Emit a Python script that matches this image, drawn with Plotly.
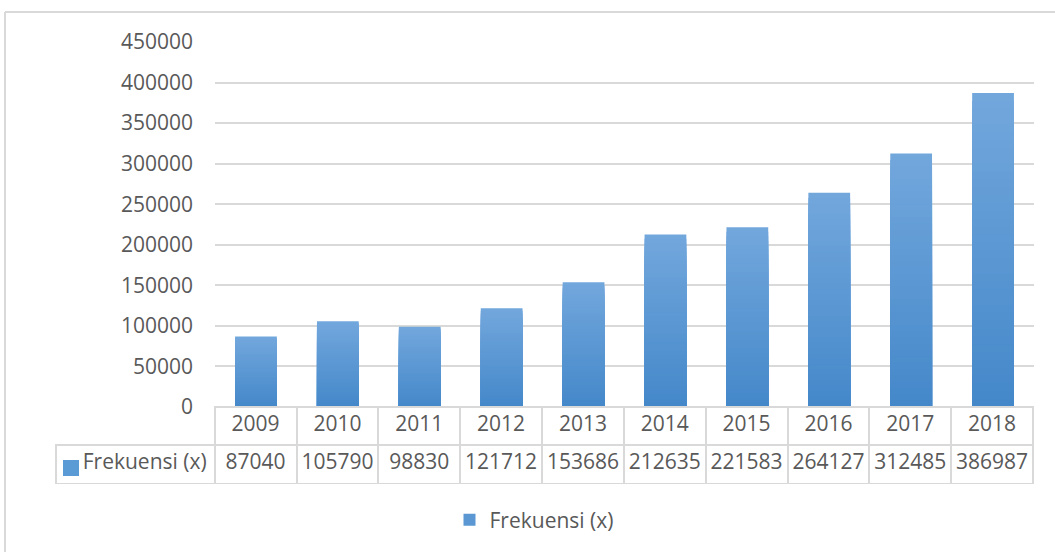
import plotly.graph_objects as go

years = ["2009", "2010", "2011", "2012", "2013", "2014", "2015", "2016", "2017", "2018"]
frekuensi = [87040, 105790, 98830, 121712, 153686, 212635, 221583, 264127, 312485, 386987]
series_name = "Frekuensi (x)"
y_ticks = [0, 50000, 100000, 150000, 200000, 250000, 300000, 350000, 400000, 450000]

W, H = 1055, 552
ML, MR, MT, MB = 5, 20, 42, 5
PW, PH = W - ML - MR, H - MT - MB

def px_x(p):
    return (p - ML) / PW

def px_y(p):
    return (H - MB - p) / PH

TXT = "#595959"
GRID = "#d9d9d9"
FONT = "Open Sans"
KEY = "#5b9bd5"

top_rgb = (0x72, 0xa7, 0xdc)
bot_rgb = (0x45, 0x88, 0xca)
N = 40

fig = go.Figure()
for k in range(N):
    t = k / (N - 1)
    c = tuple(round(top_rgb[i] + (bot_rgb[i] - top_rgb[i]) * t) for i in range(3))
    frac = (N - k) / N
    fig.add_trace(go.Bar(
        x=years,
        y=[v * frac for v in frekuensi],
        marker=dict(color="rgb(%d,%d,%d)" % c, line=dict(width=0)),
        name=series_name,
        showlegend=(k == N // 2),
        hoverinfo="skip" if k else None,
    ))

first_col_w = 215 - 56
col_w = 82
fig.add_trace(go.Table(
    domain=dict(x=[px_x(56), px_x(1034)], y=[px_y(484), px_y(407)]),
    columnwidth=[first_col_w] + [col_w] * len(years),
    header=dict(
        values=[""] + years,
        height=38,
        align="center",
        font=dict(family=FONT, size=21, color=TXT),
        fill=dict(color=["rgba(0,0,0,0)"] + ["white"] * len(years)),
        line=dict(color=["rgba(0,0,0,0)"] + [GRID] * len(years), width=2),
    ),
    cells=dict(
        values=[[series_name]] + [[str(v)] for v in frekuensi],
        height=39,
        align=["right"] + ["center"] * len(years),
        font=dict(family=FONT, size=21, color=TXT),
        fill=dict(color="white"),
        line=dict(color=GRID, width=2),
    ),
))

fig.update_layout(
    width=W, height=H,
    margin=dict(l=ML, r=MR, t=MT, b=MB, autoexpand=False),
    paper_bgcolor="white", plot_bgcolor="white",
    barmode="overlay",
    bargap=0.49,
    font=dict(family=FONT, size=21, color=TXT),
    xaxis=dict(domain=[px_x(215), px_x(1034)], showticklabels=False, showgrid=False,
               zeroline=False, showline=False, ticks=""),
    yaxis=dict(domain=[px_y(407), 1], range=[0, 450000], tickvals=y_ticks,
               ticktext=[str(v) for v in y_ticks], showgrid=True, gridcolor=GRID,
               gridwidth=2, zeroline=False, showline=False, ticks="",
               ticklabelstandoff=21, tickfont=dict(family=FONT, size=21, color=TXT)),
    legend=dict(orientation="h", xref="container", yref="container",
                x=534 / W, xanchor="center", y=1 - 520 / H, yanchor="middle",
                font=dict(family=FONT, size=21, color=TXT)),
    shapes=[
        dict(type="line", xref="paper", yref="paper",
             x0=px_x(5), x1=px_x(1055), y0=px_y(12), y1=px_y(12),
             line=dict(color=GRID, width=2), layer="below"),
        dict(type="line", xref="paper", yref="paper",
             x0=px_x(5), x1=px_x(5), y0=px_y(12), y1=px_y(552),
             line=dict(color=GRID, width=2), layer="below"),
        dict(type="rect", xref="paper", yref="paper",
             x0=px_x(63), x1=px_x(79), y0=px_y(476), y1=px_y(460),
             line=dict(width=0), fillcolor=KEY, layer="above"),
    ],
)

fig.write_html("out.html", config={"displayModeBar": False},
               post_script="document.body.style.margin='0';document.body.style.overflow='hidden';")
